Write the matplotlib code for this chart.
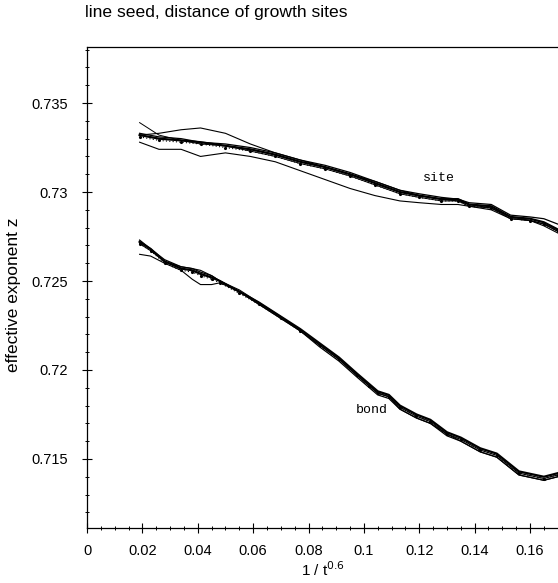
import matplotlib
matplotlib.use("Agg")
import matplotlib.pyplot as plt
from matplotlib.ticker import MultipleLocator, FixedLocator

plt.rcParams['font.family'] = ['Liberation Sans', 'DejaVu Sans']

# ---------------- data ----------------
site_x = [0.019, 0.026, 0.034, 0.041, 0.050, 0.059, 0.068, 0.077, 0.086, 0.095,
          0.104, 0.113, 0.120, 0.128, 0.134, 0.138, 0.146, 0.153, 0.160, 0.165, 0.170]
site_main = [0.7332, 0.7330, 0.7329, 0.7328, 0.7326, 0.7324, 0.7321, 0.7317, 0.7314, 0.7310,
             0.7305, 0.7300, 0.7298, 0.7296, 0.7296, 0.7293, 0.7292, 0.7286, 0.7285, 0.7283, 0.7279]
site_second = [0.7333, 0.7331, 0.7330, 0.7328, 0.7327, 0.7325, 0.7322, 0.7318, 0.7315, 0.7311,
               0.7306, 0.7301, 0.7299, 0.7297, 0.7296, 0.7294, 0.7293, 0.7287, 0.7286, 0.7285, 0.7282]
site_upper = [0.7332, 0.7333, 0.7335, 0.7336, 0.7333, 0.7327, 0.7322, 0.7318, 0.7314, 0.7310,
              0.7306, 0.7301, 0.7298, 0.7296, 0.7295, 0.7293, 0.7291, 0.7286, 0.7284, 0.7282, 0.7278]
site_lower = [0.7328, 0.7324, 0.7324, 0.7320, 0.7322, 0.7320, 0.7317, 0.7312, 0.7307, 0.7302,
              0.7298, 0.7295, 0.7294, 0.7293, 0.7293, 0.7292, 0.7290, 0.7285, 0.7284, 0.7281, 0.7277]
site_high = [0.7339, 0.7332, 0.7329, 0.7327, 0.7326, 0.7323, 0.7320, 0.7316, 0.7313, 0.7309,
             0.7304, 0.7299, 0.7297, 0.7295, 0.7295, 0.7292, 0.7291, 0.7285, 0.7284, 0.7282, 0.7278]
site_dots = [0.7331, 0.7329, 0.7328, 0.7327, 0.7325, 0.7323, 0.7320, 0.7316, 0.7313, 0.7309,
             0.7304, 0.7299, 0.7297, 0.7295, 0.7295, 0.7292, 0.7291, 0.7285, 0.7284, 0.7282, 0.7278]

bond_x = [0.019, 0.023, 0.028, 0.034, 0.038, 0.041, 0.045, 0.048, 0.055, 0.062, 0.070, 0.077,
          0.084, 0.091, 0.0975, 0.102, 0.105, 0.109, 0.113, 0.119, 0.124, 0.130, 0.135,
          0.142, 0.148, 0.156, 0.165, 0.170]
bond_main = [0.7272, 0.7268, 0.7261, 0.7257, 0.7256, 0.7254, 0.7252, 0.7250, 0.7244, 0.7238,
             0.7230, 0.7223, 0.7215, 0.7207, 0.7198, 0.7192, 0.7188, 0.7186, 0.7180, 0.7175,
             0.7172, 0.7165, 0.7162, 0.7156, 0.7153, 0.7143, 0.7140, 0.7142]
bond_second = [0.7273, 0.7268, 0.7262, 0.7258, 0.7257, 0.7255, 0.7253, 0.7250, 0.7244, 0.7237,
               0.7229, 0.7222, 0.7213, 0.7205, 0.7196, 0.7190, 0.7186, 0.7184, 0.7178, 0.7173,
               0.7170, 0.7163, 0.7160, 0.7154, 0.7151, 0.7141, 0.7138, 0.7140]
bond_upper = [0.7271, 0.7267, 0.7261, 0.7258, 0.7257, 0.7256, 0.7253, 0.7250, 0.7245, 0.7238,
              0.7230, 0.7222, 0.7214, 0.7206, 0.7197, 0.7191, 0.7187, 0.7185, 0.7179, 0.7174,
              0.7171, 0.7164, 0.7161, 0.7155, 0.7152, 0.7142, 0.7139, 0.7141]
bond_lower = [0.7265, 0.7264, 0.7260, 0.7256, 0.7251, 0.7248, 0.7248, 0.7249, 0.7244, 0.7237,
              0.7229, 0.7222, 0.7214, 0.7206, 0.7197, 0.7191, 0.7187, 0.7185, 0.7178, 0.7173,
              0.7170, 0.7164, 0.7160, 0.7154, 0.7151, 0.7141, 0.7138, 0.7140]
bond_dots = [0.7271, 0.7267, 0.7260, 0.7256, 0.7255, 0.7253, 0.7251, 0.7249, 0.7243, 0.7237,
             0.7229, 0.7222, 0.7214, 0.7206, 0.7197, 0.7191, 0.7187, 0.7185, 0.7179, 0.7174,
             0.7171, 0.7164, 0.7161, 0.7155, 0.7152, 0.7142, 0.7139, 0.7141]

x_ticks = [0, 0.02, 0.04, 0.06, 0.08, 0.1, 0.12, 0.14, 0.16]
x_labels = ['0', '0.02', '0.04', '0.06', '0.08', '0.1', '0.12', '0.14', '0.16']
y_ticks = [0.715, 0.72, 0.725, 0.73, 0.735]
y_labels = ['0.715', '0.72', '0.725', '0.73', '0.735']

title = 'line seed, distance of growth sites'
xlabel = '1 / t$^{0.6}$'
ylabel = 'effective exponent z'

# ---------------- figure ----------------
W, H = 558, 583
fig = plt.figure(figsize=(W / 100, H / 100), dpi=100)
left_px, right_px, top_px, bot_px = 87, 562, 47, 528
ax = fig.add_axes([left_px / W, 1 - bot_px / H, (right_px - left_px) / W, (bot_px - top_px) / H])

x_right = 0.17 * (right_px - left_px) / (557.7 - left_px)
ax.set_xlim(0, x_right)
ax.set_ylim(0.71112, 0.73815)

k = 'black'
for ys, lw in [(site_main, 1.6), (site_second, 0.9), (site_upper, 0.8), (site_lower, 0.8), (site_high, 0.7)]:
    ax.plot(site_x, ys, color=k, lw=lw)
ax.plot(site_x, site_dots, color=k, lw=0.8, ls=(0, (1, 2)), marker='.', ms=2.5)

for ys, lw in [(bond_main, 1.6), (bond_second, 0.9), (bond_upper, 0.8), (bond_lower, 0.8)]:
    ax.plot(bond_x, ys, color=k, lw=lw)
ax.plot(bond_x, bond_dots, color=k, lw=0.8, ls=(0, (1, 2)), marker='.', ms=2.5)

mono = ['Liberation Mono', 'DejaVu Sans Mono']
ax.text(0.1271, 0.73078, 'site', fontsize=9.5, family=mono, ha='center', va='center')
ax.text(0.1029, 0.71775, 'bond', fontsize=9.5, family=mono, ha='center', va='center')

ax.xaxis.set_major_locator(FixedLocator(x_ticks))
ax.set_xticklabels(x_labels)
ax.xaxis.set_minor_locator(MultipleLocator(0.005))
ax.yaxis.set_major_locator(FixedLocator(y_ticks))
ax.set_yticklabels(y_labels)
ax.yaxis.set_minor_locator(MultipleLocator(0.001))

ax.tick_params(which='major', direction='inout', length=7, width=0.8, labelsize=10.5,
               top=False, right=False, pad=6)
ax.tick_params(which='minor', direction='inout', length=3.5, width=0.7, top=False, right=False)
ax.tick_params(axis='y', which='major', pad=10)
ax.tick_params(axis='x', which='major', pad=8)
for s in ax.spines.values():
    s.set_linewidth(0.9)
ax.spines['right'].set_visible(False)

fig.text(85 / W, 1 - 13 / H, title, fontsize=12.6, ha='left', va='center')
fig.text(323 / W, 1 - 570 / H, xlabel, fontsize=11, ha='center', va='center')
fig.text(14 / W, 1 - 295 / H, ylabel, fontsize=12.5, ha='center', va='center', rotation=90)

fig.savefig('out.png', dpi=100)
